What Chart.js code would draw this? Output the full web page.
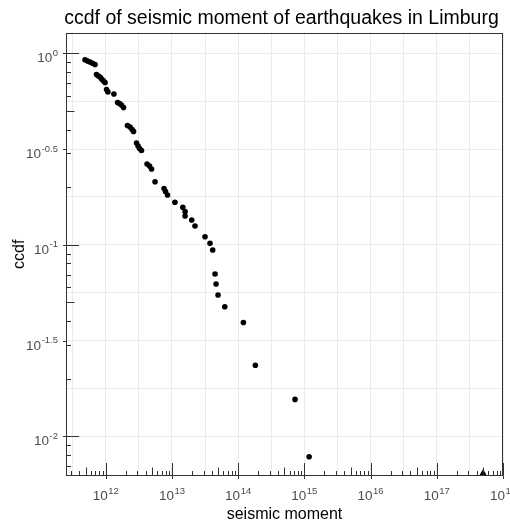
<!DOCTYPE html>
<html lang="en">
<head>
  <meta charset="UTF-8" />
  <title>ccdf of seismic moment - Limburg</title>
  <script src="https://cdn.jsdelivr.net/npm/chart.js"></script>
  <style>
    html, body { margin: 0; padding: 0; background: #ffffff; }
  </style>
</head>
<body>
  <canvas id="ccdfChart" width="510" height="523"></canvas>

  <script>
    // seismic moment of each event and its complementary cumulative frequency
    const moment = [4.87e11, 5.31e11, 5.79e11, 6.32e11, 6.89e11,
      7.26e11, 7.78e11, 8.35e11, 8.79e11, 9.27e11, 9.76e11,
      1.03e12, 1.08e12, 1.33e12,
      1.51e12, 1.62e12, 1.73e12, 1.86e12,
      2.13e12, 2.33e12, 2.50e12, 2.63e12,
      2.92e12, 3.08e12, 3.24e12, 3.47e12,
      4.21e12, 4.59e12, 4.92e12,
      5.56e12, 7.60e12, 8.00e12, 8.58e12, 1.11e13, 1.46e13, 1.58e13, 1.58e13,
      1.99e13, 2.23e13, 3.16e13, 3.76e13, 4.13e13, 4.48e13, 4.64e13, 4.97e13,
      6.28e13, 1.20e14, 1.82e14, 7.23e14, 1.18e15];
    const ccdf = [0.925, 0.912, 0.901, 0.888, 0.874,
      0.775, 0.761, 0.747, 0.730, 0.717, 0.704,
      0.647, 0.628, 0.613,
      0.553, 0.547, 0.537, 0.521,
      0.420, 0.412, 0.400, 0.391,
      0.340, 0.328, 0.318, 0.311,
      0.264, 0.258, 0.249,
      0.2136, 0.197, 0.190, 0.182, 0.1667, 0.157, 0.149, 0.1414,
      0.1348, 0.1253, 0.1102, 0.1018, 0.0940, 0.0704, 0.0624, 0.0547,
      0.0475, 0.0393, 0.0235, 0.0156, 0.00782];

    // the one event sitting on the lower edge
    const edgeMoment = [5.0e17];
    const edgeCcdf = [0.00643];

    const xTickExps = ['12', '13', '14', '15', '16', '17', '18'];
    const yTickExps = ['0', '-0.5', '-1', '-1.5', '-2'];
    const xRange = [2.512e11, 1.0e18];
    const yRange = [0.00621, 1.284];

    const FONT = '"Liberation Sans", Arial, Helvetica, sans-serif';
    const INK = '#333333';
    const LABEL = '#4d4d4d';

    // 10 with a superscript exponent
    const drawPow = (ctx, exp, x, baseline, align) => {
      ctx.font = '13.5px ' + FONT;
      const wb = ctx.measureText('10').width;
      ctx.font = '9.5px ' + FONT;
      const ws = ctx.measureText(exp).width;
      const total = wb + 0.5 + ws;
      const left = align === 'right' ? x - total : x - total / 2;
      ctx.textAlign = 'left';
      ctx.textBaseline = 'alphabetic';
      ctx.fillStyle = LABEL;
      ctx.font = '13.5px ' + FONT;
      ctx.fillText('10', left, baseline);
      ctx.font = '9.5px ' + FONT;
      ctx.fillText(exp, left + wb + 0.5, baseline - 6.5);
    };

    // log ticks inside the panel, panel frame and axis text
    const logAxes = {
      id: 'logAxes',
      afterDatasetsDraw(chart) {
        const { ctx, chartArea: a, scales: { x, y } } = chart;
        const L = Math.round(a.left) + 0.5, R = Math.round(a.right) - 0.5;
        const T = Math.round(a.top) + 0.5, B = Math.round(a.bottom) - 0.5;
        const len = m => (m === 1 ? 12.5 : m === 5 ? 8 : 4.5);
        ctx.save();
        ctx.strokeStyle = INK;
        ctx.lineWidth = 1;
        ctx.beginPath();
        for (let k = 11; k <= 18; k++) {
          for (let m = 1; m <= 9; m++) {
            const v = m * Math.pow(10, k);
            if (v < xRange[0] || v > xRange[1] * 1.0001) continue;
            const px = Math.round(x.getPixelForValue(v)) + 0.5;
            ctx.moveTo(px, B);
            ctx.lineTo(px, B - len(m));
          }
        }
        for (let k = -3; k <= 0; k++) {
          for (let m = 1; m <= 9; m++) {
            const v = m * Math.pow(10, k);
            if (v < yRange[0] || v > yRange[1]) continue;
            const py = Math.round(y.getPixelForValue(v)) + 0.5;
            ctx.moveTo(L, py);
            ctx.lineTo(L + len(m), py);
          }
        }
        // short outside ticks at the labelled breaks
        xTickExps.forEach(e => {
          const px = Math.round(x.getPixelForValue(Math.pow(10, +e))) + 0.5;
          ctx.moveTo(px, B);
          ctx.lineTo(px, B + 3.5);
        });
        yTickExps.forEach(e => {
          const py = Math.round(y.getPixelForValue(Math.pow(10, +e))) + 0.5;
          ctx.moveTo(L, py);
          ctx.lineTo(L - 3.5, py);
        });
        ctx.stroke();
        ctx.strokeRect(L, T, R - L, B - T);

        xTickExps.forEach(e => {
          drawPow(ctx, e, x.getPixelForValue(Math.pow(10, +e)), 500, 'center');
        });
        yTickExps.forEach(e => {
          drawPow(ctx, e, 58, y.getPixelForValue(Math.pow(10, +e)) + 9, 'right');
        });

        ctx.fillStyle = '#000000';
        ctx.textAlign = 'center';
        ctx.textBaseline = 'alphabetic';

        // plot title, centred a little left of the panel middle
        ctx.font = '19.5px ' + FONT;
        ctx.fillText('ccdf of seismic moment of earthquakes in Limburg', (a.left + a.right) / 2 - 3, 24);

        ctx.font = '16px ' + FONT;
        ctx.fillText('seismic moment', (a.left + a.right) / 2, 519);
        ctx.translate(23.5, (a.top + a.bottom) / 2);
        ctx.rotate(-Math.PI / 2);
        ctx.fillText('ccdf', 0, 0);
        ctx.restore();
      }
    };

    const gridAt = (lo, hi, step) => {
      const out = [];
      for (let e = lo; e <= hi + 1e-9; e += step) out.push({ value: Math.pow(10, e) });
      return out;
    };

    new Chart(document.getElementById('ccdfChart'), {
      type: 'scatter',
      data: {
        datasets: [{
          data: moment.map((m, i) => ({ x: m, y: ccdf[i] })),
          backgroundColor: '#000000',
          borderWidth: 0,
          pointRadius: 2.8
        }, {
          data: edgeMoment.map((m, i) => ({ x: m, y: edgeCcdf[i] })),
          backgroundColor: '#000000',
          borderWidth: 0,
          pointStyle: 'triangle',
          pointRadius: 4,
          clip: 0
        }]
      },
      options: {
        responsive: false,
        animation: false,
        layout: { padding: { left: 66, right: 7, top: 32.5, bottom: 47 } },
        plugins: {
          legend: { display: false },
          tooltip: { enabled: false }
        },
        scales: {
          x: {
            type: 'logarithmic',
            min: xRange[0],
            max: xRange[1],
            afterBuildTicks: axis => { axis.ticks = gridAt(11.5, 18, 0.5); },
            grid: { color: '#ebebeb', lineWidth: 1, drawTicks: false },
            border: { display: false },
            ticks: { display: false }
          },
          y: {
            type: 'logarithmic',
            min: yRange[0],
            max: yRange[1],
            afterBuildTicks: axis => { axis.ticks = gridAt(-2, 0, 0.25); },
            grid: { color: '#ebebeb', lineWidth: 1, drawTicks: false },
            border: { display: false },
            ticks: { display: false }
          }
        }
      },
      plugins: [logAxes]
    });
  </script>
</body>
</html>
